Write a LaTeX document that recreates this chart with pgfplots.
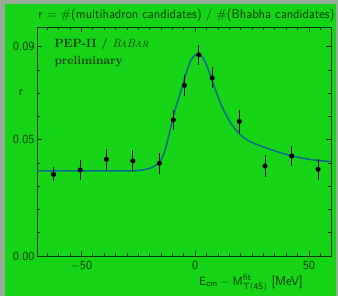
\documentclass[border=0pt]{standalone}
\usepackage{pgfplots}
\pgfplotsset{compat=1.18}
\definecolor{bggreen}{RGB}{22,212,22}
\definecolor{bggray}{RGB}{150,170,150}
\definecolor{fg}{RGB}{0,55,0}
\definecolor{curvec}{RGB}{0,105,140}
\begin{document}
\begin{tikzpicture}
\fill[bggray] (0bp,0bp) rectangle (338bp,296bp);
\fill[bggreen] (5bp,0bp) rectangle (336bp,292bp);
\begin{axis}[
  at={(37bp,40bp)}, anchor=south west,
  scale only axis, width=294bp, height=229bp,
  xmin=-69.5, xmax=59.7, ymin=0, ymax=0.0985,
  scaled y ticks=false, scaled x ticks=false,
  axis line style={fg, line width=1pt},
  every tick/.style={fg, line width=0.6pt},
  xtick={-50,0,50}, xticklabels={$-$50,0,50},
  minor xtick={-65,-60,-55,-45,-40,-35,-30,-25,-20,-15,-10,-5,5,10,15,20,25,30,35,40,45,55},
  ytick={0,0.05,0.09}, yticklabels={0.00,0.05,0.09},
  minor ytick={0.01,0.02,0.03,0.04,0.06,0.07,0.08},
  tick align=inside, major tick length=5bp, minor tick length=3bp,
  ticklabel style={font=\fontsize{12.5}{14}\selectfont\sffamily, text=fg},
  xticklabel style={yshift=-2bp},
  yticklabel style={xshift=1bp},
  clip=false,
]
\addplot[curvec, line width=1.5pt, smooth] coordinates {
(-69.5,0.0366) (-50,0.0366) (-30,0.0366) (-25,0.0368) (-22,0.0372) (-20,0.0377)
(-18,0.0386) (-16,0.0401) (-14,0.0432) (-12,0.0500) (-10,0.0585) (-8,0.0655)
(-6,0.0718) (-4,0.0785) (-2,0.0840) (0,0.0864) (1.2,0.0869) (2.4,0.0864)
(3.5,0.0850) (5,0.0822) (7,0.0767) (9,0.0712) (11,0.0660) (13,0.0618)
(15,0.0582) (17,0.0553) (19,0.0530) (21,0.0512) (24,0.0493) (27,0.0480)
(30,0.0469) (35,0.0452) (40,0.0437) (45,0.0425) (50,0.0416) (55,0.0410) (59.7,0.0406)
};
\addplot[only marks, mark=*, mark size=2.3bp, black,
  error bars/.cd, y dir=both, y explicit,
  error bar style={black, line width=0.8pt}, error mark=none]
  table[x=x, y=y, y error=e] {
x y e
-62.2 0.0351 0.0030
-50.5 0.0370 0.0043
-39.0 0.0416 0.0045
-27.4 0.0409 0.0045
-15.7 0.0399 0.0045
-9.6 0.0585 0.0045
-4.7 0.0734 0.0045
1.6 0.0865 0.0042
7.5 0.0766 0.0045
19.4 0.0579 0.0048
30.7 0.0387 0.0048
42.4 0.0430 0.0045
54.0 0.0373 0.0045
};
\end{axis}
\node[text=fg, font=\fontsize{12.8}{14}\selectfont\sffamily] at (186.5bp,281bp) {r = \#(multihadron candidates) / \#(Bhabha candidates)};
\node[text=fg, font=\fontsize{12.5}{14}\selectfont\sffamily] at (21bp,203bp) {r};
\node[text=fg, font=\fontsize{13}{15}\selectfont\sffamily] at (251bp,13bp) {$\mathsf{E_{cm}} - \mathsf{M^{fit}_{\Upsilon(4S)}}$ [MeV]};
\node[text=fg, anchor=west, font=\fontsize{12}{13}\selectfont\bfseries] at (51bp,251bp) {PEP-II / {\mdseries\itshape B\kern-0.05em{\small A}B{\small AR}}};
\node[text=fg, anchor=west, font=\fontsize{12}{13}\selectfont\bfseries] at (51bp,234bp) {preliminary};
\pgfresetboundingbox
\useasboundingbox (0bp,0bp) rectangle (338bp,296bp);
\end{tikzpicture}
\end{document}
